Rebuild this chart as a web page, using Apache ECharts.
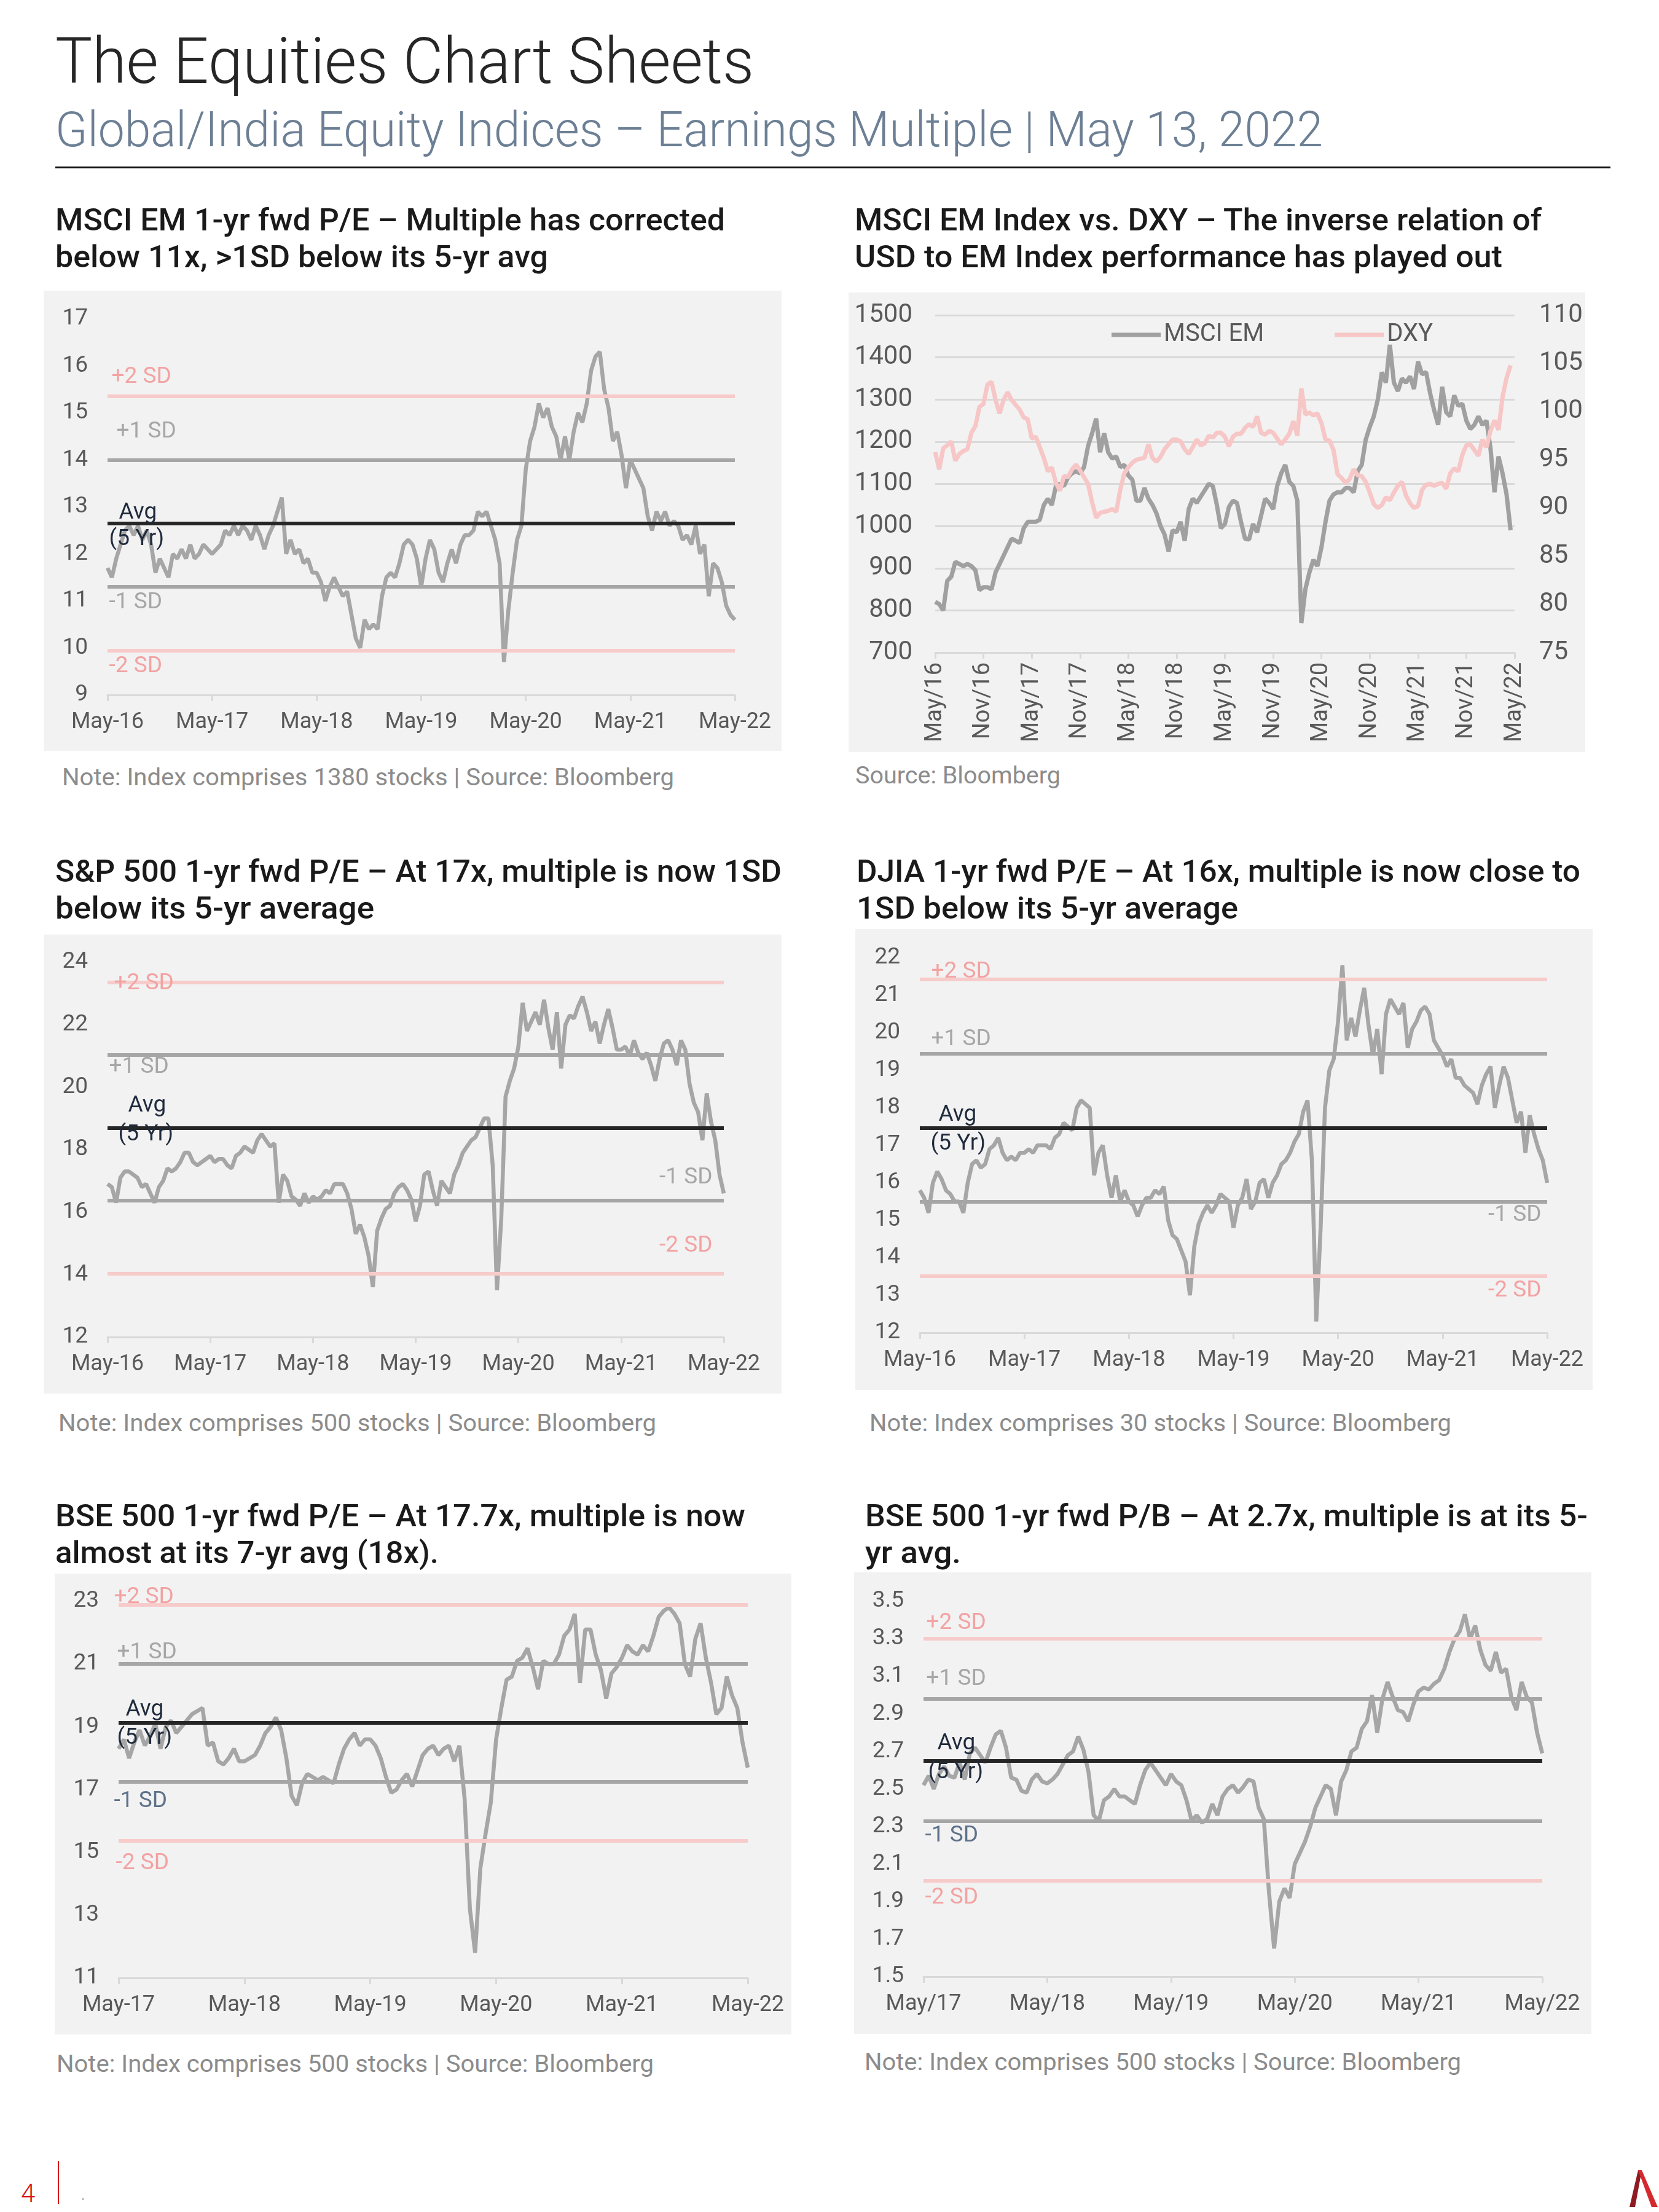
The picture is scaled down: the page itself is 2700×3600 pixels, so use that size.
<!DOCTYPE html>
<html><head><meta charset="utf-8">
<script src="https://cdn.jsdelivr.net/npm/echarts@6.0.0/dist/echarts.min.js"></script>
<style>
html,body{margin:0;padding:0;background:#fff;}
body{width:2700px;height:3600px;position:relative;overflow:hidden;font-family:Roboto,'Noto Sans',sans-serif;}
.abs{position:absolute;white-space:nowrap;}
.fit{display:inline-block;transform-origin:0 50%;white-space:nowrap;}
#title{left:90px;top:48px;font-size:104px;line-height:104px;font-weight:300;color:#262626;}
#subtitle{left:90px;top:172px;font-size:79px;line-height:79px;font-weight:300;color:#6c7f94;}
#rule{left:90px;top:271px;width:2531px;height:3px;background:#111;}
.ptitle{font-size:50px;line-height:60px;font-weight:500;color:#1a1a1a;}
.note{font-size:38px;line-height:38px;color:#8c8c8c;}
.chart{position:absolute;}
</style></head><body>

<div id="title" class="abs"><span class="fit" data-w="1137">The Equities Chart Sheets</span></div>
<div id="subtitle" class="abs"><span class="fit" data-w="2063">Global/India Equity Indices – Earnings Multiple | May 13, 2022</span></div>
<div id="rule" class="abs"></div>

<div class="abs ptitle" style="left:90px;top:328px;"><span class="fit" data-w="1090">MSCI EM 1-yr fwd P/E – Multiple has corrected</span><br><span class="fit" data-w="802">below 11x, &gt;1SD below its 5-yr avg</span></div>
<div class="abs ptitle" style="left:1391px;top:328px;"><span class="fit" data-w="1118">MSCI EM Index vs. DXY – The inverse relation of</span><br><span class="fit" data-w="1054">USD to EM Index performance has played out</span></div>
<div class="abs ptitle" style="left:90px;top:1388px;"><span class="fit" data-w="1182">S&amp;P 500 1-yr fwd P/E – At 17x, multiple is now 1SD</span><br><span class="fit" data-w="519">below its 5-yr average</span></div>
<div class="abs ptitle" style="left:1394px;top:1388px;"><span class="fit" data-w="1178">DJIA 1-yr fwd P/E – At 16x, multiple is now close to</span><br><span class="fit" data-w="621">1SD below its 5-yr average</span></div>
<div class="abs ptitle" style="left:90px;top:2437px;"><span class="fit" data-w="1123">BSE 500 1-yr fwd P/E – At 17.7x, multiple is now</span><br><span class="fit" data-w="624">almost at its 7-yr avg (18x).</span></div>
<div class="abs ptitle" style="left:1408px;top:2437px;"><span class="fit" data-w="1176">BSE 500 1-yr fwd P/B – At 2.7x, multiple is at its 5-</span><br><span class="fit" data-w="156">yr avg.</span></div>

<div id="c1" class="chart" style="left:71px;top:473px;width:1201px;height:749px;"></div>
<div id="c2" class="chart" style="left:1381px;top:476px;width:1199px;height:748px;"></div>
<div id="c3" class="chart" style="left:71px;top:1521px;width:1201px;height:747px;"></div>
<div id="c4" class="chart" style="left:1392px;top:1512px;width:1200px;height:750px;"></div>
<div id="c5" class="chart" style="left:89px;top:2561px;width:1199px;height:750px;"></div>
<div id="c6" class="chart" style="left:1390px;top:2559px;width:1200px;height:751px;"></div>

<div class="abs note" style="left:101px;top:1246px;"><span class="fit" data-w="996">Note: Index comprises 1380 stocks | Source: Bloomberg</span></div>
<div class="abs note" style="left:1392px;top:1243px;"><span class="fit" data-w="334">Source: Bloomberg</span></div>
<div class="abs note" style="left:95px;top:2297px;"><span class="fit" data-w="973">Note: Index comprises 500 stocks | Source: Bloomberg</span></div>
<div class="abs note" style="left:1415px;top:2297px;"><span class="fit" data-w="947">Note: Index comprises 30 stocks | Source: Bloomberg</span></div>
<div class="abs note" style="left:92px;top:3340px;"><span class="fit" data-w="972">Note: Index comprises 500 stocks | Source: Bloomberg</span></div>
<div class="abs note" style="left:1407px;top:3337px;"><span class="fit" data-w="971">Note: Index comprises 500 stocks | Source: Bloomberg</span></div>

<div class="abs" style="left:34px;top:3549px;font-size:42px;line-height:42px;color:#d7141a;font-weight:300;">4</div>
<div class="abs" style="left:94px;top:3517px;width:2px;height:70px;background:#d7141a;"></div>
<div class="abs" style="left:132px;top:3560px;font-size:24px;line-height:24px;color:#999;">.</div>
<svg class="abs" style="left:2630px;top:3528px;" width="70" height="66" viewBox="0 0 70 66">
  <polygon points="36,4 42,4 31,64 22,64" fill="#8e1b22"/>
  <polygon points="36,4 42,4 68,64 58,64" fill="#d42a2f"/>
</svg>

<script>
const MONTHS = ['Jan','Feb','Mar','Apr','May','Jun','Jul','Aug','Sep','Oct','Nov','Dec'];
function halfMonthDates(startYear, count) {
  const out = [];
  for (let i = 0; i < count; i++) {
    const m = 4 + Math.floor(i / 2);
    const y = startYear + Math.floor(m / 12);
    const mm = (m % 12) + 1;
    out.push(y + '-' + String(mm).padStart(2, '0') + '-' + (i % 2 ? '28' : '13'));
  }
  return out;
}
// Categories (semi-monthly observation dates)
const dates16 = halfMonthDates(2016, 145);   // May-16 .. May-22
const dates17 = halfMonthDates(2017, 121);   // May-17 .. May-22

// ---- MSCI EM 1-yr fwd P/E ----
const emPE = [
 11.7,11.5,11.9,12.2,12.5,12.6,12.4,12.6,12.3,12.5,12.2,11.6,11.9,11.7,11.5,12.0,11.9,12.1,11.9,12.2,11.9,12.0,12.2,12.1,
 12.0,12.1,12.2,12.5,12.4,12.6,12.4,12.6,12.5,12.3,12.6,12.4,12.1,12.4,12.6,12.9,13.2,12.0,12.3,12.0,12.1,11.8,11.9,11.6,
 11.6,11.4,11.0,11.3,11.5,11.3,11.1,11.2,10.7,10.2,10.0,10.6,10.4,10.5,10.4,11.1,11.5,11.6,11.5,11.8,12.2,12.3,12.2,11.9,
 11.3,11.9,12.3,12.1,11.6,11.4,11.8,12.1,11.8,12.2,12.4,12.4,12.5,12.9,12.8,12.9,12.6,12.3,11.8,9.7,10.8,11.6,12.3,12.6,
 13.8,14.4,14.7,15.2,14.9,15.1,14.7,14.5,14.0,14.5,14.0,14.6,15.0,14.8,15.2,15.9,16.2,16.3,15.5,15.1,14.4,14.6,14.1,13.4,
 14.0,13.8,13.6,13.4,12.8,12.5,12.9,12.7,12.9,12.6,12.7,12.6,12.3,12.4,12.2,12.6,12.0,12.2,11.1,11.8,11.7,11.4,10.9,10.7,10.6
];
const emBands = [15.35, 14.0, 12.65, 11.3, 9.95];   // +2SD, +1SD, Avg, -1SD, -2SD

// ---- MSCI EM index vs DXY ----
const emIndex = [
 820,815,800,870,880,915,910,905,910,905,895,848,855,855,850,890,910,930,950,970,965,960,995,1010,
 1010,1010,1015,1050,1065,1050,1095,1100,1095,1115,1125,1130,1125,1140,1190,1220,1255,1175,1220,1175,1160,1165,1140,1145,
 1120,1110,1060,1060,1090,1065,1050,1030,1000,980,940,990,985,1010,965,1040,1065,1055,1070,1085,1100,1095,1050,995,
 1005,1045,1060,1055,1010,970,968,1005,985,1025,1065,1055,1040,1095,1125,1145,1105,1095,1060,770,850,890,920,905,
 950,1010,1060,1075,1080,1080,1090,1090,1080,1130,1145,1205,1235,1260,1300,1365,1340,1430,1340,1320,1350,1340,1355,1325,
 1390,1360,1365,1315,1275,1240,1330,1270,1260,1310,1285,1290,1250,1230,1240,1260,1240,1250,1185,1080,1165,1125,1075,990
];
const dxy = [
 95.8,94.0,96.2,96.5,96.9,94.9,95.6,95.9,96.1,97.8,98.5,100.5,100.8,102.8,103.1,101.2,99.8,101.2,102.0,101.2,100.7,100.2,99.4,99.2,
 97.2,97.4,96.3,95.2,93.8,94.2,92.6,91.8,93.3,93.2,94.0,94.5,93.9,93.2,92.5,90.6,89.0,89.5,89.6,89.7,89.9,89.6,91.9,93.6,
 94.2,94.7,95.0,95.1,95.2,96.6,95.2,94.8,95.3,96.1,96.6,97.1,97.1,96.9,96.1,95.6,96.3,97.1,96.5,96.7,97.5,97.3,97.8,97.8,
 97.4,96.4,97.4,97.7,97.7,98.3,98.7,98.4,99.5,97.8,97.6,98.0,97.8,97.2,96.6,97.1,97.7,99.0,97.5,102.4,99.7,99.9,99.6,99.8,
 98.8,97.1,97.0,96.0,93.5,93.1,92.6,93.0,94.0,93.4,93.3,92.7,91.6,90.4,90.0,90.3,91.1,90.8,91.6,92.3,92.7,91.3,90.5,90.0,
 90.2,91.9,92.4,92.5,92.3,92.5,92.6,92.0,93.6,94.1,93.8,95.5,96.5,96.6,96.0,95.4,97.1,96.3,98.0,99.1,98.1,101.5,103.5,104.8
];

// ---- S&P 500 1-yr fwd P/E ----
const spPE = [
 16.9,16.8,16.3,17.1,17.3,17.3,17.2,17.1,16.8,16.9,16.6,16.3,16.8,17.0,17.4,17.3,17.4,17.6,17.9,17.9,17.6,17.5,17.6,17.7,
 17.8,17.6,17.7,17.7,17.5,17.4,17.8,17.9,18.1,18.0,17.9,18.3,18.5,18.3,18.1,18.2,16.3,17.2,17.0,16.5,16.4,16.2,16.6,16.3,
 16.5,16.4,16.5,16.7,16.6,16.9,16.9,16.9,16.6,16.1,15.3,15.6,15.2,14.6,13.6,15.4,15.8,16.1,16.2,16.6,16.8,16.9,16.7,16.4,
 15.7,16.2,17.2,17.3,16.7,16.2,17.0,16.8,16.6,17.2,17.5,17.9,18.1,18.3,18.4,18.7,19.0,19.0,17.5,13.5,15.8,19.7,20.2,20.6,
 21.3,22.7,21.8,22.1,22.4,22.0,22.8,21.9,21.2,22.4,20.6,22.0,22.3,22.2,22.6,22.9,22.4,21.8,22.1,21.4,22.0,22.5,21.9,21.2,
 21.2,21.3,21.0,21.5,21.1,20.9,21.1,20.7,20.2,20.9,21.4,21.5,21.2,20.7,21.5,21.2,20.1,19.5,19.2,18.3,19.8,18.9,18.3,17.2,16.6
];
const spBands = [23.36, 21.03, 18.70, 16.37, 14.04];

// ---- DJIA 1-yr fwd P/E ----
const djPE = [
 15.8,15.6,15.2,16.0,16.3,16.1,15.8,15.7,15.5,15.5,15.2,16.0,16.5,16.6,16.4,16.5,16.9,17.0,17.2,16.8,16.6,16.7,16.6,16.8,
 16.8,16.9,16.8,17.0,17.0,17.0,16.9,17.2,17.3,17.6,17.5,17.4,18.0,18.2,18.1,18.0,16.2,16.8,17.0,16.2,15.6,16.2,15.5,15.8,
 15.5,15.4,15.1,15.4,15.6,15.6,15.8,15.7,15.9,15.0,14.6,14.5,14.2,13.9,13.0,14.3,14.9,15.2,15.4,15.2,15.4,15.7,15.6,15.5,
 14.8,15.4,15.6,16.1,15.3,15.5,16.0,16.1,15.6,16.0,16.2,16.5,16.6,16.8,17.1,17.3,17.9,18.2,16.6,12.3,14.8,18.0,19.0,19.3,
 20.3,21.8,19.8,20.4,19.9,20.6,21.2,20.2,19.4,20.1,18.9,20.5,20.9,20.7,20.5,20.8,19.6,20.1,20.3,20.6,20.7,20.5,19.8,19.6,
 19.4,19.1,19.3,18.8,18.8,18.6,18.5,18.4,18.1,18.6,18.9,19.1,18.0,18.6,19.1,18.8,18.2,17.6,17.9,16.8,17.8,17.3,16.9,16.6,16.0
];
const djBands = [21.43, 19.45, 17.47, 15.49, 13.51];

// ---- BSE 500 1-yr fwd P/E ----
const bsePE = [
 18.3,18.6,18.0,18.5,18.9,18.4,18.7,19.1,18.3,19.0,19.2,18.8,19.0,19.2,19.4,19.5,19.6,18.4,18.5,17.9,17.8,18.0,18.3,17.9,
 17.9,18.0,18.1,18.4,18.8,19.0,19.3,18.9,18.0,16.8,16.5,17.2,17.5,17.4,17.3,17.4,17.3,17.2,17.8,18.3,18.6,18.8,18.4,18.6,
 18.6,18.4,18.0,17.4,16.9,17.0,17.3,17.5,17.1,17.6,18.1,18.3,18.4,18.1,18.3,18.4,17.9,18.4,16.7,13.2,11.8,14.5,15.6,16.6,
 18.6,19.6,20.5,20.6,21.1,21.2,21.5,20.9,20.2,21.1,21.0,21.0,21.3,21.9,22.1,22.6,20.4,22.1,22.1,21.3,20.8,19.9,20.7,20.9,
 21.2,21.6,21.4,21.3,21.6,21.4,21.9,22.5,22.7,22.8,22.6,22.3,21.0,20.6,21.8,22.3,21.2,20.4,19.4,19.6,20.6,20.0,19.6,18.5,17.7
];
const bsePEBands = [22.89, 21.01, 19.13, 17.25, 15.37];

// ---- BSE 500 1-yr fwd P/B ----
const bsePB = [
 2.52,2.57,2.50,2.58,2.62,2.57,2.56,2.64,2.55,2.69,2.72,2.68,2.64,2.72,2.79,2.81,2.72,2.56,2.55,2.49,2.48,2.55,2.58,2.54,
 2.53,2.55,2.58,2.63,2.68,2.70,2.78,2.71,2.59,2.36,2.33,2.44,2.46,2.50,2.46,2.46,2.44,2.42,2.52,2.60,2.64,2.60,2.56,2.52,
 2.58,2.54,2.52,2.44,2.33,2.36,2.32,2.34,2.42,2.36,2.46,2.50,2.52,2.48,2.51,2.55,2.54,2.40,2.34,1.95,1.65,1.90,1.97,1.92,
 2.10,2.16,2.22,2.30,2.40,2.46,2.52,2.50,2.36,2.54,2.60,2.70,2.72,2.82,2.86,3.00,2.80,2.98,3.07,2.99,2.92,2.91,2.86,2.95,
 3.02,3.04,3.03,3.06,3.08,3.14,3.23,3.30,3.34,3.43,3.30,3.37,3.24,3.16,3.13,3.23,3.12,3.14,2.99,2.92,3.07,2.99,2.96,2.80,2.69
];
const bsePBBands = [3.30, 2.977, 2.655, 2.333, 2.011];

const FONT = 'Roboto, "Noto Sans", sans-serif';
const PINK_LINE = '#f8cbcb', PINK_TXT = '#f3a2a2', GREY = '#a6a6a6', BLACK = '#262626', NAVY = '#1f2b3c', SLATE = '#5d7189';
const AXIS_TXT = '#595959';

function fmtDash(d) { const p = d.split('-'); return MONTHS[+p[1] - 1] + '-' + p[0].slice(2); }
function fmtSlash(d) { const p = d.split('-'); return MONTHS[+p[1] - 1] + '/' + p[0].slice(2); }

function peChart(id, cats, values, bands, yCfg, grid, labels, xfmt) {
  const chart = echarts.init(document.getElementById(id));
  const last = cats.length - 1;
  const lineColors = [PINK_LINE, GREY, BLACK, GREY, PINK_LINE];
  const mlData = bands.map((v, i) => ({ yAxis: v, lineStyle: { color: lineColors[i], width: 6, type: 'solid' } }));
  const mpData = labels.map(l => ({
    name: l.text,
    coord: [l.end ? last : 0, bands[l.band]],
    label: { position: [l.dx, l.dy], align: l.end ? 'right' : 'left', verticalAlign: 'middle', color: l.color }
  }));
  chart.setOption({
    backgroundColor: '#f2f2f2',
    animation: false,
    grid: grid,
    xAxis: {
      type: 'category', data: cats, boundaryGap: false,
      axisLine: { show: true, lineStyle: { color: '#d9d9d9', width: 3 } },
      axisTick: { show: true, interval: 23, length: 10, lineStyle: { color: '#d9d9d9', width: 3 } },
      axisLabel: { interval: 23, formatter: xfmt, color: AXIS_TXT, fontSize: 36, margin: 27, fontFamily: FONT },
      splitLine: { show: false }
    },
    yAxis: {
      type: 'value', min: yCfg.min, max: yCfg.max, interval: yCfg.interval,
      axisLine: { show: false }, axisTick: { show: false }, splitLine: { show: false },
      axisLabel: { color: AXIS_TXT, fontSize: 37, margin: 32, fontFamily: FONT,
        formatter: v => yCfg.dec ? v.toFixed(yCfg.dec) : String(Math.round(v)) }
    },
    series: [{
      type: 'line', data: values, showSymbol: false, symbol: 'none', z: 2,
      lineStyle: { color: GREY, width: 6.5 },
      markLine: { silent: true, symbol: ['none', 'none'], animation: false, label: { show: false }, data: mlData },
      markPoint: {
        silent: true, animation: false, symbol: 'circle', symbolSize: 1,
        itemStyle: { color: 'rgba(0,0,0,0)' },
        label: { show: true, formatter: '{b}', fontSize: 37, fontFamily: FONT },
        data: mpData
      }
    }]
  });
}

peChart('c1', dates16, emPE, emBands, { min: 9, max: 17, interval: 1 },
  { left: 104, right: 76, top: 46, bottom: 91 },
  [
    { text: '+2 SD', band: 0, dx: 7, dy: -31, color: PINK_TXT },
    { text: '+1 SD', band: 1, dx: 15, dy: -45, color: GREY },
    { text: 'Avg', band: 2, dx: 19, dy: -17, color: NAVY },
    { text: '(5 Yr)', band: 2, dx: 3, dy: 26, color: NAVY },
    { text: '-1 SD', band: 3, dx: 3, dy: 26, color: GREY },
    { text: '-2 SD', band: 4, dx: 3, dy: 27, color: PINK_TXT }
  ], fmtDash);

peChart('c3', dates16, spPE, spBands, { min: 12, max: 24, interval: 2 },
  { left: 104, right: 94, top: 45, bottom: 92 },
  [
    { text: '+2 SD', band: 0, dx: 11, dy: 3, color: PINK_TXT },
    { text: '+1 SD', band: 1, dx: 3, dy: 20, color: GREY },
    { text: 'Avg', band: 2, dx: 34, dy: -35, color: NAVY },
    { text: '(5 Yr)', band: 2, dx: 18, dy: 12, color: NAVY },
    { text: '-1 SD', band: 3, end: true, dx: -18, dy: -37, color: GREY },
    { text: '-2 SD', band: 4, end: true, dx: -18, dy: -44, color: PINK_TXT }
  ], fmtDash);

peChart('c4', dates16, djPE, djBands, { min: 12, max: 22, interval: 1 },
  { left: 105, right: 74, top: 47, bottom: 93 },
  [
    { text: '+2 SD', band: 0, dx: 19, dy: -12, color: PINK_TXT },
    { text: '+1 SD', band: 1, dx: 19, dy: -22, color: GREY },
    { text: 'Avg', band: 2, dx: 31, dy: -20, color: NAVY },
    { text: '(5 Yr)', band: 2, dx: 18, dy: 27, color: NAVY },
    { text: '-1 SD', band: 3, end: true, dx: -9, dy: 22, color: GREY },
    { text: '-2 SD', band: 4, end: true, dx: -9, dy: 24, color: PINK_TXT }
  ], fmtDash);

peChart('c5', dates17, bsePE, bsePEBands, { min: 11, max: 23, interval: 2 },
  { left: 104, right: 71, top: 45, bottom: 92 },
  [
    { text: '+2 SD', band: 0, dx: -7, dy: -11, color: PINK_TXT },
    { text: '+1 SD', band: 1, dx: -2, dy: -17, color: GREY },
    { text: 'Avg', band: 2, dx: 12, dy: -20, color: NAVY },
    { text: '(5 Yr)', band: 2, dx: -2, dy: 26, color: NAVY },
    { text: '-1 SD', band: 3, dx: -7, dy: 33, color: SLATE },
    { text: '-2 SD', band: 4, dx: -4, dy: 37, color: PINK_TXT }
  ], fmtDash);

peChart('c6', dates17, bsePB, bsePBBands, { min: 1.5, max: 3.5, interval: 0.2, dec: 1 },
  { left: 113, right: 80, top: 47, bottom: 93 },
  [
    { text: '+2 SD', band: 0, dx: 5, dy: -25, color: PINK_TXT },
    { text: '+1 SD', band: 1, dx: 5, dy: -33, color: GREY },
    { text: 'Avg', band: 2, dx: 23, dy: -26, color: NAVY },
    { text: '(5 Yr)', band: 2, dx: 8, dy: 21, color: NAVY },
    { text: '-1 SD', band: 3, dx: 3, dy: 26, color: SLATE },
    { text: '-2 SD', band: 4, dx: 3, dy: 28, color: PINK_TXT }
  ], fmtSlash);

// MSCI EM index vs DXY
(function () {
  const chart = echarts.init(document.getElementById('c2'));
  chart.setOption({
    backgroundColor: '#f2f2f2',
    animation: false,
    grid: { left: 141, right: 115, top: 37, bottom: 162 },
    legend: {
      data: ['MSCI EM', 'DXY'], left: 423, top: 44, icon: 'rect',
      itemWidth: 80, itemHeight: 7, itemGap: 115,
      textStyle: { fontSize: 40, color: AXIS_TXT, fontFamily: FONT }
    },
    xAxis: {
      type: 'category', data: dates16, boundaryGap: false,
      axisLine: { show: true, lineStyle: { color: '#d9d9d9', width: 3 } },
      axisTick: { show: true, interval: 11, length: 10, lineStyle: { color: '#d9d9d9', width: 3 } },
      axisLabel: { interval: 11, rotate: 90, formatter: fmtSlash, color: AXIS_TXT, fontSize: 38, margin: 16, fontFamily: FONT }
    },
    yAxis: [
      { type: 'value', min: 700, max: 1500, interval: 100,
        axisLine: { show: false }, axisTick: { show: false },
        splitLine: { show: true, lineStyle: { color: '#d9d9d9', width: 3 } },
        axisLabel: { color: AXIS_TXT, fontSize: 42, margin: 37, fontFamily: FONT, formatter: v => String(v) } },
      { type: 'value', position: 'right', min: 75, max: 110, interval: 5,
        axisLine: { show: false }, axisTick: { show: false }, splitLine: { show: false },
        axisLabel: { color: AXIS_TXT, fontSize: 42, margin: 40, fontFamily: FONT, formatter: v => String(v) } }
    ],
    series: [
      { name: 'MSCI EM', type: 'line', data: emIndex, yAxisIndex: 0, showSymbol: false, symbol: 'none',
        lineStyle: { color: '#a0a0a0', width: 7 }, itemStyle: { color: '#a0a0a0' } },
      { name: 'DXY', type: 'line', data: dxy, yAxisIndex: 1, showSymbol: false, symbol: 'none',
        lineStyle: { color: '#f7c6c6', width: 7 }, itemStyle: { color: '#f7c6c6' } }
    ]
  });
})();

// fit HTML text lines to the measured widths of the reference layout
document.querySelectorAll('.fit').forEach(el => {
  const w = el.getBoundingClientRect().width;
  const t = +el.dataset.w;
  if (w > 0 && t > 0) el.style.transform = 'scaleX(' + (t / w).toFixed(4) + ')';
});
</script>
</body></html>
